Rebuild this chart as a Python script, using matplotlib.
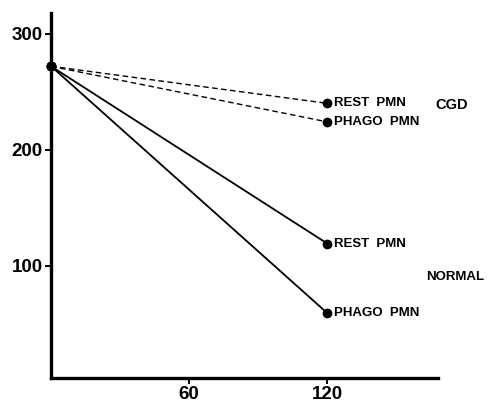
import matplotlib.pyplot as plt

# minutes, value
time_points = [0, 120]
cgd_rest = [272, 240]
cgd_phago = [272, 224]
normal_rest = [272, 119]
normal_phago = [272, 59]

series_labels = ["REST  PMN", "PHAGO  PMN", "REST  PMN", "PHAGO  PMN"]
x_ticks = [60, 120]
y_ticks = [100, 200, 300]

plt.rcParams["font.family"] = ["Liberation Sans", "DejaVu Sans"]

fig = plt.figure(figsize=(4.91, 4.04), dpi=100)
ax = fig.add_axes([0.104, 0.064, 0.788, 0.904])

for vals in (cgd_rest, cgd_phago):
    ax.plot(time_points, vals, color="black", lw=1.0, ls=(0, (4, 2.5)))
for vals in (normal_rest, normal_phago):
    ax.plot(time_points, vals, color="black", lw=1.3)

all_series = [cgd_rest, cgd_phago, normal_rest, normal_phago]
for vals, lab in zip(all_series, series_labels):
    ax.plot(time_points, vals, ls="none", marker="o", ms=6, color="black",
            clip_on=False, zorder=5)
    ax.annotate(lab, (time_points[-1], vals[-1]), xytext=(5, 0),
                textcoords="offset points", va="center", ha="left",
                fontsize=9.5, fontweight="bold")

ax.text(167, 239, "CGD", fontsize=10.5, fontweight="bold", va="center")
ax.text(163, 90, "NORMAL", fontsize=9.5, fontweight="bold", va="center")

ax.set_xlim(0, 168)
ax.set_ylim(3, 318)
ax.set_xticks(x_ticks)
ax.set_yticks(y_ticks)
ax.tick_params(direction="out", length=4, width=1.4, labelsize=13.5, pad=2)
for t in ax.get_xticklabels() + ax.get_yticklabels():
    t.set_fontweight("bold")

for side in ("top", "right"):
    ax.spines[side].set_visible(False)
for side in ("left", "bottom"):
    ax.spines[side].set_linewidth(2.4)

fig.savefig("out.png", dpi=100)
